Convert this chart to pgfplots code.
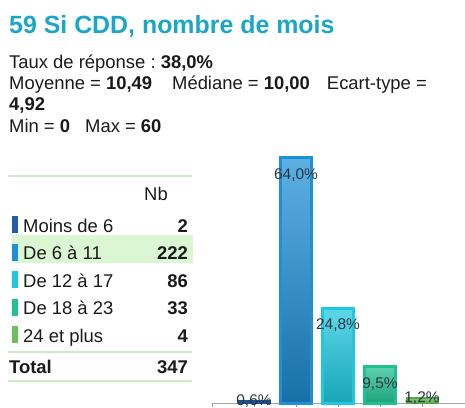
\documentclass[border=0pt]{standalone}
\usepackage{pgfplots}
\pgfplotsset{compat=1.18}
\usepackage{fontspec}
\setmainfont{Liberation Sans}
\frenchspacing
\definecolor{titlec}{HTML}{1BA6C9}
\definecolor{txt}{HTML}{1A1A1A}
\definecolor{lab}{HTML}{2A3644}
\definecolor{tline}{HTML}{CDEAC5}
\definecolor{hl}{HTML}{DAF6D2}
\definecolor{cA}{HTML}{1F5FAE}
\definecolor{cB}{HTML}{1E90D8}
\definecolor{cC}{HTML}{1EC8E0}
\definecolor{cD}{HTML}{20C090}
\definecolor{cE}{HTML}{6CC05C}
\begin{document}
\begin{tikzpicture}[x=1bp,y=1bp]
\path[use as bounding box] (0,0) rectangle (465,407);
% header
\node[anchor=base west,inner sep=0,text=titlec,font=\fontsize{25}{30}\selectfont\bfseries] at (9,374) {59 Si CDD, nombre de mois};
\begin{scope}[every node/.style={anchor=base west,inner sep=0,text=txt,font=\fontsize{18.5}{22}\selectfont}]
\node at (9,339) {Taux de réponse : \textbf{38,0\%}};
\node at (9,318) {Moyenne = \textbf{10,49}\hspace{20bp}Médiane = \textbf{10,00}\hspace{17bp}Ecart-type =};
\node at (9,297) {\textbf{4,92}};
\node at (9,275) {Min = \textbf{0}\hspace{15bp}Max = \textbf{60}};
\end{scope}
% table
\fill[hl] (12,144) rectangle (193,172);
\draw[tline,line width=1.5bp] (8,231) -- (192,231);
\draw[tline,line width=1.5bp] (8,55) -- (192,55);
\draw[tline,line width=1.5bp] (8,26) -- (192,26);
\begin{scope}[every node/.style={inner sep=0,text=txt,font=\fontsize{18.5}{22}\selectfont}]
\node[anchor=base east] at (168,207) {Nb};
\foreach \b/\c/\l/\v in {175/cA/Moins de 6/2,147.5/cB/De 6 à 11/222,120/cC/De 12 à 17/86,92.5/cD/De 18 à 23/33,65/cE/24 et plus/4}{
  \fill[\c] (12,\b-1) rectangle (17.5,\b+16);
  \node[anchor=base west] at (23,\b) {\l};
  \node[anchor=base east] at (188,\b) {\textbf{\v}};
}
\node[anchor=base west] at (9,34) {\textbf{Total}};
\node[anchor=base east] at (188,34) {\textbf{347}};
\end{scope}
% chart
\begin{axis}[
  at={(212bp,4bp)}, anchor=south west,
  scale only axis, width=254.1bp, height=268.1bp,
  xmin=-1, xmax=5.05, ymin=0, ymax=70,
  axis x line*=bottom, axis y line=none,
  axis line style={draw=gray!70,line width=0.8bp},
  xtick={-1,0,1,2,3,4}, xticklabels={},
  tick align=outside, major tick length=4bp,
  tick style={draw=gray!80,line width=0.8bp},
  ytick=\empty,
  clip=false,
  ybar, bar width=31bp, bar shift=0pt,
  point meta=explicit symbolic,
  nodes near coords,
  every node near coord/.append style={anchor=center,text=lab,font=\fontsize{15.5}{18}\selectfont,inner sep=0},
]
\addplot[draw=cA!85!black,line width=2bp,top color=cA!85!white,bottom color=cA!90!black,
  every node near coord/.append style={yshift=0bp}] coordinates {(0,0.6) [0,6\%]};
\addplot[draw=cB,line width=3bp,top color=cB!72!white,bottom color=cB!78!black,
  every node near coord/.append style={yshift=-17bp}] coordinates {(1,64.0) [64,0\%]};
\addplot[draw=cC,line width=3bp,top color=cC!72!white,bottom color=cC!82!black,
  every node near coord/.append style={yshift=-17bp}] coordinates {(2,24.8) [24,8\%]};
\addplot[draw=cD,line width=3bp,top color=cD!72!white,bottom color=cD!85!black,
  every node near coord/.append style={yshift=-17bp}] coordinates {(3,9.5) [9,5\%]};
\addplot[draw=cE!85!black,line width=2bp,top color=cE!85!white,bottom color=cE!90!black,
  every node near coord/.append style={yshift=0bp}] coordinates {(4,1.2) [1,2\%]};
\end{axis}
\end{tikzpicture}
\end{document}
